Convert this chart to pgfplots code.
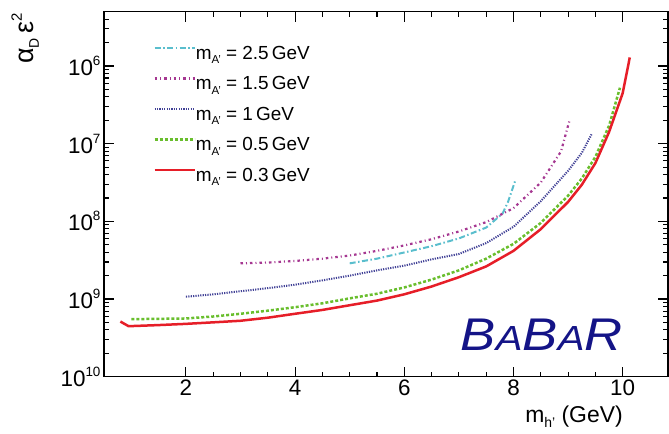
\documentclass[border=0pt]{standalone}
\usepackage{fontspec}
\setmainfont{Liberation Sans}
\usepackage{pgfplots}
\pgfplotsset{compat=1.18}

\definecolor{cCyan}{RGB}{90,190,205}
\definecolor{cMag}{RGB}{165,55,145}
\definecolor{cBlue}{RGB}{65,65,150}
\definecolor{cGreen}{RGB}{105,190,45}
\definecolor{cRed}{RGB}{230,30,40}
\definecolor{cNavy}{RGB}{20,20,135}

\newcommand{\tl}[1]{10\raisebox{10bp}{\fontsize{13.5}{13.5}\selectfont #1}}
\newcommand{\sub}[1]{\raisebox{-4.5bp}{\fontsize{11.5}{11.5}\selectfont #1}}

\pgfplotstableread{
x y
0.80 5.13e-10
0.95 4.47e-10
1.5 4.62e-10
2.0 4.79e-10
2.5 5.01e-10
3.0 5.25e-10
3.5 5.75e-10
4.0 6.46e-10
4.5 7.24e-10
5.0 8.32e-10
5.5 9.55e-10
6.0 1.15e-9
6.5 1.45e-9
7.0 1.91e-9
7.5 2.63e-9
8.0 4.17e-9
8.5 7.94e-9
9.0 1.78e-8
9.25 2.95e-8
9.5 5.62e-8
9.75 1.41e-7
10.0 4.47e-7
10.13 1.29e-6
}\redtab

\pgfplotstableread{
x y
1.0 5.50e-10
1.5 5.56e-10
2.0 5.62e-10
2.5 5.96e-10
3.0 6.46e-10
3.5 7.08e-10
4.0 7.85e-10
4.5 8.81e-10
5.0 1.02e-9
5.5 1.17e-9
6.0 1.41e-9
6.5 1.78e-9
7.0 2.34e-9
7.5 3.31e-9
8.0 5.13e-9
8.5 9.55e-9
9.0 2.14e-8
9.25 3.55e-8
9.5 6.76e-8
9.75 1.70e-7
9.95 5.25e-7
}\greentab

\pgfplotstableread{
x y
2.0 1.07e-9
2.5 1.15e-9
3.0 1.26e-9
3.5 1.38e-9
4.0 1.53e-9
4.5 1.74e-9
5.0 2.00e-9
5.5 2.34e-9
6.0 2.69e-9
6.5 3.24e-9
7.0 3.80e-9
7.5 5.25e-9
8.0 8.51e-9
8.5 1.82e-8
9.0 4.47e-8
9.25 7.59e-8
9.43 1.32e-7
}\bluetab

\pgfplotstableread{
x y
3.0 2.88e-9
3.5 2.95e-9
4.0 3.09e-9
4.5 3.31e-9
5.0 3.63e-9
5.5 4.17e-9
6.0 4.90e-9
6.5 5.89e-9
7.0 7.41e-9
7.5 9.77e-9
8.0 1.48e-8
8.5 3.16e-8
8.87 7.94e-8
9.03 2.04e-7
}\magtab

\pgfplotstableread{
x y
5.0 2.88e-9
5.5 3.31e-9
6.0 3.98e-9
6.5 4.79e-9
7.0 6.03e-9
7.5 8.32e-9
7.8 1.26e-8
7.9 1.78e-8
8.03 3.31e-8
}\cyantab

\begin{document}
\begin{tikzpicture}
\begin{axis}[
  scale only axis, width=564bp, height=365bp,
  xmin=0.5, xmax=10.83,
  ymode=log, ymin=1e-10, ymax=5e-6,
  axis line style={line width=1.3bp},
  tick align=inside, major tick length=10bp, minor tick length=5bp,
  every tick/.style={black, line width=1.1bp},
  xtick={2,4,6,8,10}, xticklabels={2,4,6,8,10}, minor x tick num=3,
  ytick={1e-10,1e-9,1e-8,1e-7,1e-6},
  yticklabels={\tl{10},\tl{9},\tl{8},\tl{7},\tl{6}},
  minor ytick={2e-10,3e-10,4e-10,5e-10,6e-10,7e-10,8e-10,9e-10,
               2e-9,3e-9,4e-9,5e-9,6e-9,7e-9,8e-9,9e-9,
               2e-8,3e-8,4e-8,5e-8,6e-8,7e-8,8e-8,9e-8,
               2e-7,3e-7,4e-7,5e-7,6e-7,7e-7,8e-7,9e-7,
               2e-6,3e-6,4e-6},
  tick label style={font=\fontsize{22.5}{22.5}\selectfont},
  legend style={at={(0.087,0.908)}, anchor=north west, draw=none, fill=none,
    font=\fontsize{19}{19}\selectfont, inner sep=0pt, row sep=12.5bp,
    nodes={inner sep=0pt, text height=14bp, text depth=4bp},
    /tikz/every even column/.append style={column sep=9bp}},
  legend image code/.code={\draw[#1] (0bp,6.5bp) -- (40bp,6.5bp);},
  legend cell align=left,
]
\addplot[cCyan, line width=2bp, dash pattern=on 6bp off 2.5bp on 1.5bp off 2.5bp] table {\cyantab};
\addlegendentry{m\sub{A'} = 2.5\,GeV}
\addplot[cMag, line width=2.2bp, dash pattern=on 2.5bp off 3bp on 1bp off 3bp] table {\magtab};
\addlegendentry{m\sub{A'} = 1.5\,GeV}
\addplot[cBlue, line width=2bp, dash pattern=on 1.2bp off 1.2bp] table {\bluetab};
\addlegendentry{m\sub{A'} = 1\,GeV}
\addplot[cGreen, line width=2.5bp, dash pattern=on 3bp off 2bp] table {\greentab};
\addlegendentry{m\sub{A'} = 0.5\,GeV}
\addplot[cRed, line width=2.5bp] table {\redtab};
\addlegendentry{m\sub{A'} = 0.3\,GeV}

\node[anchor=base east, text=cNavy, font=\fontsize{46}{46}\selectfont\itshape, xscale=1.15, inner sep=0pt]
  at (rel axis cs:0.92,0.073) {B{\fontsize{35}{35}\selectfont A}B{\fontsize{35}{35}\selectfont A}R};
\coordinate (O) at (rel axis cs:0,0);
\coordinate (T) at (rel axis cs:0,1);
\coordinate (XL) at (rel axis cs:0.92,0);
\end{axis}
\node[anchor=base east, inner sep=0pt, font=\fontsize{23}{23}\selectfont]
  at ([yshift=-45.5bp]XL) {m\raisebox{-5bp}{\fontsize{14}{14}\selectfont h'} (GeV)};
\node[anchor=base east, rotate=90, inner sep=0pt, font=\fontsize{27}{27}\selectfont]
  at ([xshift=-70bp,yshift=-1.3bp]T) {α\raisebox{-5bp}{\fontsize{14}{14}\selectfont D}\,ε\raisebox{12bp}{\fontsize{15}{15}\selectfont 2}};
\pgfresetboundingbox
\path ([xshift=-104bp,yshift=-57.3bp]O) rectangle ++(669bp,434bp);
\end{tikzpicture}
\end{document}
